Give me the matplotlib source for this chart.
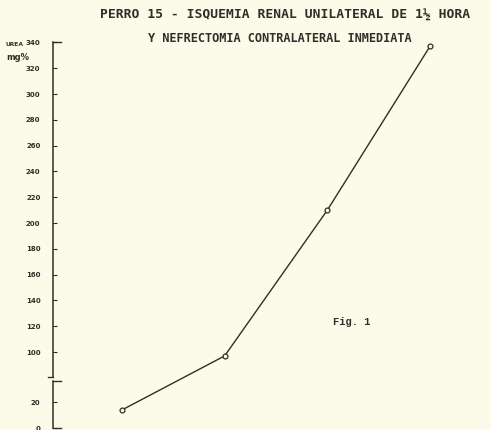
import numpy as np
import matplotlib.pyplot as plt

# data
steps = [1, 2, 3, 4]
urea = [14, 97, 210, 337]

yticks = [0, 20, 100, 120, 140, 160, 180, 200, 220, 240, 260, 280, 300, 320, 340]

title1 = "PERRO 15 - ISQUEMIA RENAL UNILATERAL DE 1½ HORA"
title2 = "Y NEFRECTOMIA CONTRALATERAL INMEDIATA"

# broken y axis: 0..36 linear, 36..80 squeezed, above 80 shifted down
LO, HI, SHIFT = 36.0, 80.0, 41.1
def fwd(y):
    y = np.asarray(y, dtype=float)
    mid = LO + (y - LO) * ((HI - SHIFT) - LO) / (HI - LO)
    return np.where(y <= LO, y, np.where(y >= HI, y - SHIFT, mid))

def inv(p):
    p = np.asarray(p, dtype=float)
    top = HI - SHIFT
    mid = LO + (p - LO) * (HI - LO) / (top - LO)
    return np.where(p <= LO, p, np.where(p >= top, p + SHIFT, mid))

bg = "#fcfbe9"
ink = "#2e2e2a"

fig = plt.figure(figsize=(4.91, 4.30), dpi=100, facecolor=bg)
ax = fig.add_axes([53/491, 0, 438/491, 1])
ax.set_facecolor(bg)
ax.set_yscale("function", functions=(fwd, inv))
ax.set_xlim(0.328, 4.594)
ax.set_ylim(inv(-1.55), inv(331.8))

ax.plot(steps, urea, color=ink, lw=1.0, marker="o", ms=3.5, mfc=bg, mec=ink, mew=0.9)

for s in ax.spines.values():
    s.set_visible(False)
ax.set_xticks([])
ax.set_yticks(yticks)
ax.set_yticklabels([str(t) for t in yticks], fontsize=5, fontweight="bold", color=ink)
ax.tick_params(axis="y", direction="in", length=3, width=0.8, color=ink, pad=9)

# the two axis segments, drawn on the axes' left edge
ax.plot([0, 0], [0, 37.5], transform=ax.get_yaxis_transform(), color=ink, lw=1.1, clip_on=False)
ax.plot([0, 0], [80.5, 340], transform=ax.get_yaxis_transform(), color=ink, lw=1.1, clip_on=False)
for yv in [0, 37.5, 340]:
    ax.plot([0, 0.018], [yv, yv], transform=ax.get_yaxis_transform(), color=ink, lw=1.0, clip_on=False)
ax.plot([-0.012, 0], [80.5, 80.5], transform=ax.get_yaxis_transform(), color=ink, lw=1.0, clip_on=False)

fig.text(15/491, 1 - 45/430, "UREA", fontsize=4.3, fontweight="bold", color=ink, ha="center", va="center")
fig.text(18/491, 1 - 58/430, "mg%", fontsize=6, fontweight="bold", color=ink, ha="center", va="center")

fig.text(285/491, 1 - 15/430, title1, fontsize=9.4, fontweight="bold", color=ink,
         family="DejaVu Sans Mono", ha="center", va="center")
fig.text(280/491, 1 - 38/430, title2, fontsize=8.6, fontweight="bold", color=ink,
         family="DejaVu Sans Mono", ha="center", va="center")

fig.text(352/491, 1 - 322/430, "Fig. 1", fontsize=7.5, fontweight="bold", color=ink,
         family="Liberation Mono", ha="center", va="center")

fig.savefig("out.png", dpi=100, facecolor=bg)
